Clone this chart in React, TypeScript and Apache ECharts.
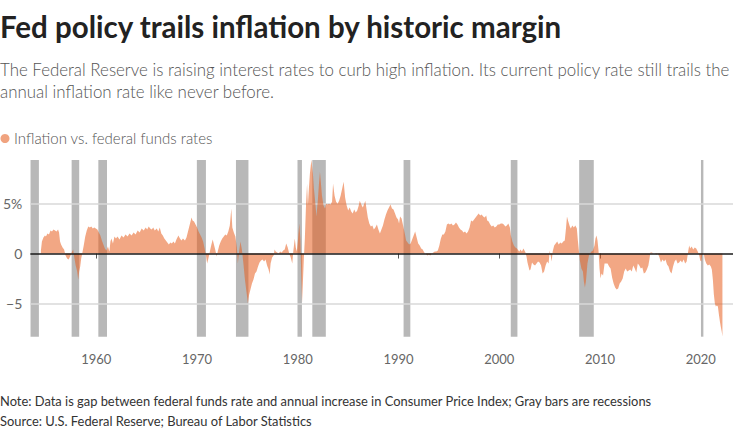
import React, { useEffect, useRef } from "react";
import * as echarts from "echarts";

const TITLE = "Fed policy trails inflation by historic margin";
const SUBTITLE_1 = "The Federal Reserve is raising interest rates to curb high inflation. Its current policy rate still trails the";
const SUBTITLE_2 = "annual inflation rate like never before.";
const LEGEND_LABEL = "Inflation vs. federal funds rates";
const NOTE = "Note: Data is gap between federal funds rate and annual increase in Consumer Price Index; Gray bars are recessions";
const SOURCE = "Source: U.S. Federal Reserve; Bureau of Labor Statistics";

const yearTicks = [1960, 1970, 1980, 1990, 2000, 2010, 2020];
const valueTicks = [-5, 0, 5];

const recessionStarts = [1953.47, 1957.55, 1960.2, 1969.98, 1973.86, 1979.97, 1981.44, 1990.5, 2001.14, 2007.93, 2020.02];
const recessionEnds = [1954.3, 1958.3, 1961.06, 1970.88, 1975.1, 1980.41, 1982.78, 1991.17, 2001.8, 2009.38, 2020.26];

const gapYears = [
  1954.5, 1954.6, 1954.75, 1954.9, 1955.0, 1955.15, 1955.3, 1955.45, 1955.6, 1955.75, 1955.9, 1956.05, 1956.2, 1956.3, 1956.4, 1956.5, 1956.65, 1956.8, 1956.95,
  1957.1, 1957.25, 1957.4, 1957.55, 1957.7, 1957.8, 1957.95, 1958.1, 1958.2, 1958.3, 1958.4, 1958.5, 1958.6, 1958.75, 1958.9,
  1959.05, 1959.2, 1959.35, 1959.5, 1959.65, 1959.8, 1959.95, 1960.1, 1960.25, 1960.4, 1960.55, 1960.7, 1960.85, 1961.0, 1961.15, 1961.3, 1961.4, 1961.5, 1961.65, 1961.8, 1961.95,
  1962.1, 1962.3, 1962.5, 1962.7, 1962.9, 1963.1, 1963.3, 1963.5, 1963.7, 1963.9, 1964.1, 1964.3, 1964.5, 1964.7, 1964.9,
  1965.05, 1965.2, 1965.35, 1965.5, 1965.65, 1965.8, 1966.0, 1966.15, 1966.3, 1966.45, 1966.6, 1966.75, 1966.9, 1967.05, 1967.2, 1967.35, 1967.5, 1967.65, 1967.8, 1967.95,
  1968.15, 1968.3, 1968.45, 1968.6, 1968.8, 1968.95, 1969.1, 1969.3, 1969.45, 1969.55, 1969.7, 1969.85, 1970.0, 1970.15, 1970.3, 1970.45, 1970.6, 1970.75, 1970.9,
  1971.0, 1971.1, 1971.25, 1971.4, 1971.55, 1971.65, 1971.8, 1971.95, 1972.05, 1972.2, 1972.35, 1972.5, 1972.65, 1972.8, 1972.95,
  1973.1, 1973.25, 1973.4, 1973.5, 1973.65, 1973.8, 1973.95, 1974.05, 1974.15, 1974.3, 1974.45, 1974.6, 1974.75, 1974.9, 1975.05, 1975.15, 1975.3, 1975.45, 1975.6, 1975.75, 1975.9,
  1976.05, 1976.2, 1976.35, 1976.5, 1976.65, 1976.8, 1976.95, 1977.1, 1977.2, 1977.3, 1977.45, 1977.6, 1977.7, 1977.8, 1977.95,
  1978.1, 1978.25, 1978.4, 1978.55, 1978.7, 1978.85, 1979.0, 1979.15, 1979.3, 1979.45, 1979.55, 1979.7, 1979.8, 1979.9,
  1980.0, 1980.15, 1980.25, 1980.35, 1980.42, 1980.5, 1980.6, 1980.7, 1980.82, 1980.92, 1981.0, 1981.1, 1981.2, 1981.35, 1981.5, 1981.6, 1981.7, 1981.85,
  1982.0, 1982.1, 1982.2, 1982.3, 1982.4, 1982.55, 1982.7, 1982.8, 1982.95, 1983.1, 1983.25, 1983.4, 1983.5, 1983.65, 1983.8, 1983.95,
  1984.1, 1984.25, 1984.4, 1984.55, 1984.7, 1984.85, 1985.0, 1985.15, 1985.3, 1985.45, 1985.6, 1985.75, 1985.9,
  1986.05, 1986.15, 1986.3, 1986.45, 1986.6, 1986.7, 1986.8, 1986.95, 1987.1, 1987.25, 1987.4, 1987.55, 1987.7, 1987.85,
  1988.0, 1988.15, 1988.3, 1988.45, 1988.6, 1988.75, 1988.9, 1989.05, 1989.2, 1989.35, 1989.5, 1989.65, 1989.8, 1989.95,
  1990.05, 1990.15, 1990.3, 1990.45, 1990.6, 1990.75, 1990.9, 1991.05, 1991.2, 1991.35, 1991.5, 1991.65, 1991.8, 1991.95,
  1992.1, 1992.25, 1992.4, 1992.55, 1992.7, 1992.85, 1993.0, 1993.15, 1993.3, 1993.45, 1993.6, 1993.75, 1993.9,
  1994.05, 1994.2, 1994.35, 1994.5, 1994.65, 1994.8, 1994.95, 1995.1, 1995.25, 1995.4, 1995.55, 1995.7, 1995.85,
  1996.0, 1996.15, 1996.3, 1996.45, 1996.6, 1996.75, 1996.9, 1997.05, 1997.2, 1997.35, 1997.5, 1997.65, 1997.8, 1997.95,
  1998.1, 1998.25, 1998.4, 1998.55, 1998.7, 1998.8, 1998.95, 1999.1, 1999.25, 1999.4, 1999.55, 1999.7, 1999.85,
  2000.0, 2000.15, 2000.3, 2000.45, 2000.6, 2000.75, 2000.9, 2001.05, 2001.15, 2001.3, 2001.45, 2001.6, 2001.75, 2001.9,
  2002.0, 2002.1, 2002.25, 2002.4, 2002.5, 2002.6, 2002.7, 2002.8, 2002.9, 2003.0, 2003.1, 2003.25, 2003.4, 2003.55, 2003.7, 2003.85,
  2004.0, 2004.15, 2004.3, 2004.45, 2004.6, 2004.75, 2004.9, 2005.0, 2005.1, 2005.2, 2005.3, 2005.45, 2005.6, 2005.75, 2005.9,
  2006.05, 2006.2, 2006.35, 2006.5, 2006.62, 2006.72, 2006.85, 2007.0, 2007.1, 2007.25, 2007.4, 2007.55, 2007.7, 2007.8, 2007.9,
  2008.0, 2008.15, 2008.3, 2008.4, 2008.5, 2008.6, 2008.75, 2008.9, 2009.0, 2009.15, 2009.3, 2009.45, 2009.55, 2009.65, 2009.75, 2009.85, 2009.95,
  2010.05, 2010.15, 2010.3, 2010.45, 2010.6, 2010.75, 2010.9, 2011.05, 2011.2, 2011.35, 2011.5, 2011.65, 2011.8, 2011.95,
  2012.1, 2012.25, 2012.4, 2012.55, 2012.7, 2012.85, 2013.0, 2013.15, 2013.3, 2013.45, 2013.6, 2013.75, 2013.9,
  2014.05, 2014.2, 2014.35, 2014.5, 2014.65, 2014.8, 2014.9, 2015.0, 2015.15, 2015.3, 2015.45, 2015.6, 2015.75, 2015.9,
  2016.05, 2016.2, 2016.35, 2016.5, 2016.65, 2016.8, 2016.95, 2017.1, 2017.25, 2017.4, 2017.55, 2017.7, 2017.85,
  2018.0, 2018.15, 2018.3, 2018.45, 2018.6, 2018.75, 2018.85, 2018.95, 2019.1, 2019.25, 2019.4, 2019.55, 2019.7, 2019.85, 2019.95,
  2020.05, 2020.15, 2020.3, 2020.4, 2020.55, 2020.7, 2020.85, 2021.0, 2021.1, 2021.2, 2021.3, 2021.4, 2021.5, 2021.6, 2021.7, 2021.8, 2021.9,
  2022.0, 2022.08, 2022.15,
];

const gapValues = [
  0.3, 1.2, 1.6, 1.8, 1.7, 2.0, 1.9, 2.3, 2.2, 2.4, 2.3, 2.2, 2.4, 2.1, 1.2, 0.9, 0.6, 0.4, -0.2,
  -0.5, -0.6, -0.3, 0.1, 0.4, -0.3, -1.2, -1.8, -2.6, -1.8, -1.3, -0.5, 0.0, 0.8, 1.7,
  2.3, 2.7, 2.6, 2.7, 2.5, 2.6, 2.5, 2.4, 2.1, 1.8, 1.3, 0.9, 0.5, 0.3, 0.7, 0.2, 1.2, 1.5, 1.0, 1.7, 1.5,
  1.7, 1.4, 1.8, 1.6, 1.9, 1.7, 2.0, 1.8, 2.1, 1.9, 2.3, 2.1, 2.5, 2.3, 2.6,
  2.4, 2.7, 2.5, 2.4, 2.6, 2.3, 2.5, 2.2, 2.6, 2.0, 1.8, 1.5, 1.3, 1.1, 0.9, 1.1, 1.0, 1.2, 1.0, 1.4,
  1.8, 1.5, 1.3, 1.5, 1.3, 1.6, 2.2, 3.0, 3.6, 3.3, 3.2, 2.9, 2.6, 2.2, 1.9, 1.6, 1.2, 0.5, -0.3,
  -1.0, -0.6, 0.1, 0.8, 1.4, 1.0, 0.4, -0.3, 0.2, 0.8, 1.2, 1.5, 1.7, 1.9, 1.8,
  2.2, 2.8, 4.5, 2.6, 2.1, 1.7, 0.6, -1.0, 0.0, 1.2, 0.4, -1.0, -2.6, -3.8, -5.0, -4.2, -3.6, -3.0, -2.6, -2.0, -1.8,
  -1.3, -0.9, -0.7, -0.6, -0.8, -0.6, -1.2, -1.6, -2.1, -1.0, -0.4, -0.2, 0.4, 0.2, 0.1,
  0.0, 0.2, 0.1, 0.3, 0.4, 1.0, 0.6, 0.0, -0.4, -1.0, 0.2, 1.5, 0.6, 0.2,
  1.2, 3.0, 1.5, -2.5, -4.9, -3.0, -0.5, 1.5, 5.0, 7.0, 4.8, 6.5, 8.0, 9.4, 8.0, 6.5, 5.5, 3.7,
  5.5, 7.0, 8.2, 7.0, 5.8, 4.8, 4.5, 5.0, 4.9, 5.0, 4.9, 5.2, 7.0, 5.8, 5.2, 5.0,
  5.3, 5.8, 6.5, 7.2, 5.6, 4.8, 4.3, 4.6, 4.2, 4.0, 4.4, 4.1, 4.3,
  4.8, 5.3, 4.9, 4.6, 5.0, 5.3, 4.6, 3.6, 3.0, 2.7, 2.8, 2.4, 2.6, 2.9,
  2.4, 2.0, 2.4, 2.8, 3.4, 3.9, 4.3, 4.6, 4.9, 4.5, 4.4, 4.0, 3.6, 3.4,
  3.0, 3.7, 3.5, 2.8, 2.1, 1.3, 1.1, 0.9, 1.0, 1.4, 1.8, 2.2, 1.6, 1.0,
  0.8, 0.5, 0.4, 0.1, 0.0, -0.2, -0.1, -0.2, 0.0, 0.1, 0.2, 0.2, 0.3,
  0.8, 1.5, 1.9, 1.9, 2.2, 2.9, 3.0, 2.9, 3.0, 2.8, 2.9, 3.1, 2.9,
  2.6, 2.4, 2.3, 2.1, 2.2, 2.0, 2.2, 2.6, 3.3, 3.2, 3.4, 3.6, 3.8, 4.0,
  3.8, 3.9, 3.7, 3.6, 3.8, 3.3, 3.2, 2.9, 2.7, 2.8, 2.6, 2.7, 2.9,
  2.9, 3.0, 3.0, 2.9, 2.7, 2.8, 3.0, 2.6, 1.8, 1.2, 0.8, 0.6, 0.5, 0.3,
  0.2, 0.4, 0.2, 0.5, 0.3, 0.1, -0.3, -0.9, -1.3, -1.7, -1.6, -0.9, -1.1, -1.2, -1.0, -0.8,
  -0.9, -1.2, -2.0, -1.8, -1.2, -0.8, -1.0, 0.3, -0.2, -0.8, 0.2, 0.8, 1.0, 1.2, 0.9,
  1.1, 1.0, 1.2, 1.3, 2.5, 3.7, 3.2, 2.7, 2.5, 2.8, 2.6, 2.8, 2.5, 1.3, 0.3,
  -0.7, -1.5, -1.8, -2.8, -3.4, -2.8, -1.0, -0.2, 0.0, 0.2, 0.3, 0.8, 1.5, 1.8, 1.3, 0.3, -1.5,
  -2.5, -2.0, -2.2, -1.0, -1.0, -1.0, -1.3, -1.5, -2.4, -3.0, -3.4, -3.6, -3.5, -3.0,
  -2.8, -2.5, -1.8, -1.5, -1.8, -1.7, -1.6, -1.8, -1.2, -1.5, -1.9, -1.0, -1.2,
  -1.5, -1.4, -2.0, -1.9, -1.6, -1.2, -0.6, 0.1, 0.1, 0.0, 0.0, -0.1, 0.0, -0.4,
  -0.9, -0.6, -0.8, -0.6, -1.1, -1.3, -1.8, -2.0, -1.3, -0.8, -0.6, -1.0, -0.9,
  -0.7, -0.9, -0.6, -1.0, -0.8, 0.2, 0.8, 0.5, 0.7, 0.4, 0.6, 0.5, 0.2, -0.2, -0.7,
  -0.8, -0.1, 0.0, -0.6, -1.0, -1.2, -1.1, -1.3, -1.6, -2.6, -4.1, -5.0, -5.3, -5.2, -5.3, -6.1, -6.8,
  -7.4, -7.8, -8.3,
];

const FONT = "Lato, 'Noto Sans', sans-serif";
const AREA_COLOR = "rgba(231, 95, 31, 0.55)";

export default function App() {
  const ref = useRef<HTMLDivElement>(null);

  useEffect(() => {
    if (!ref.current) return;
    const chart = echarts.init(ref.current, undefined, { renderer: "svg" });

    const seriesData = gapYears.map((y, i) => [y, gapValues[i]]);
    const recessionAreas = recessionStarts.map((s, i) => [{ xAxis: s }, { xAxis: recessionEnds[i] }]);

    chart.setOption({
      animation: false,
      textStyle: { fontFamily: FONT },
      grid: { left: 28, right: 3, top: 160, bottom: 96.3, containLabel: false },
      xAxis: {
        type: "value",
        min: 1953.45,
        max: 2023.2,
        axisLine: { show: false },
        splitLine: { show: false },
        axisTick: {
          show: true,
          customValues: yearTicks,
          length: 5,
          lineStyle: { color: "#555", width: 1 },
        },
        axisLabel: {
          customValues: yearTicks,
          color: "#666",
          fontSize: 13,
          fontFamily: FONT,
          margin: 16,
          formatter: (v: number) => String(v),
        },
      },
      yAxis: {
        type: "value",
        min: -8.33,
        max: 9.37,
        axisLine: { show: false },
        axisTick: { show: false },
        splitLine: { show: false },
        axisLabel: {
          customValues: valueTicks,
          color: "#666",
          fontSize: 14,
          fontFamily: FONT,
          margin: 8,
          formatter: (v: number) => (v === 5 ? "5%" : v < 0 ? "\u2212" + Math.abs(v) : String(v)),
        },
      },
      series: [
        {
          name: "recessions",
          type: "line",
          data: [],
          z: 1,
          silent: true,
          markArea: {
            silent: true,
            z: 1,
            itemStyle: { color: "#b8b8b8" },
            data: recessionAreas,
          },
          markLine: {
            silent: true,
            z: 1,
            symbol: "none",
            label: { show: false },
            lineStyle: { color: "#d8d8d8", width: 1.5, type: "solid" },
            data: [{ yAxis: 5 }, { yAxis: -5 }],
          },
        },
        {
          name: LEGEND_LABEL,
          type: "line",
          data: seriesData,
          z: 3,
          showSymbol: false,
          symbol: "none",
          silent: true,
          lineStyle: { width: 0 },
          areaStyle: { color: AREA_COLOR, opacity: 1, origin: 0 },
          markLine: {
            silent: true,
            symbol: "none",
            z: 5,
            label: { show: false },
            lineStyle: { color: "#1a1a1a", width: 1.5, type: "solid" },
            data: [{ yAxis: 0 }],
          },
        },
      ],
      graphic: [
        {
          type: "text",
          left: 0,
          top: 11,
          style: { text: TITLE, font: `bold 29.5px ${FONT}`, fill: "#222" },
        },
        {
          type: "text",
          left: 0,
          top: 61,
          style: { text: SUBTITLE_1, font: `300 16.9px ${FONT}`, fill: "#555" },
        },
        {
          type: "text",
          left: 0,
          top: 83,
          style: { text: SUBTITLE_2, font: `300 16.9px ${FONT}`, fill: "#555" },
        },
        {
          type: "circle",
          shape: { cx: 5, cy: 138.5, r: 4.5 },
          style: { fill: "#f0a37f" },
        },
        {
          type: "text",
          left: 14,
          top: 130,
          style: { text: LEGEND_LABEL, font: `300 15px ${FONT}`, fill: "#555" },
        },
        {
          type: "text",
          left: 0,
          top: 394,
          style: { text: NOTE, font: `12.9px ${FONT}`, fill: "#333" },
        },
        {
          type: "text",
          left: 0,
          top: 414,
          style: { text: SOURCE, font: `12.9px ${FONT}`, fill: "#333" },
        },
      ],
    });

    return () => chart.dispose();
  }, []);

  return <div ref={ref} style={{ width: 736, height: 433, position: "absolute", left: 0, top: 0 }} />;
}
